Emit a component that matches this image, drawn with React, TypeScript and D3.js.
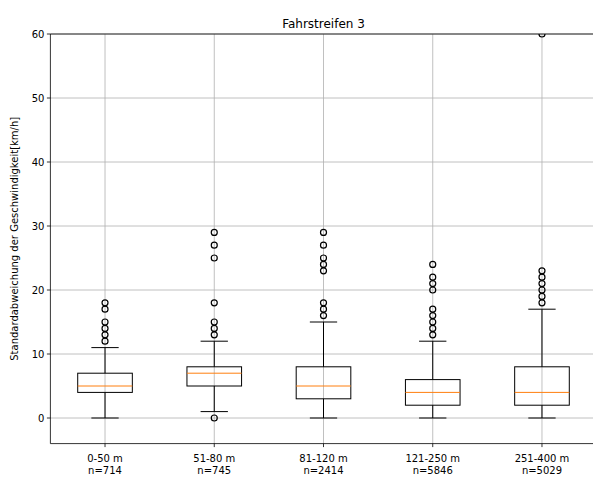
import React from "react";
import * as d3 from "d3";

const categories = ["0-50 m", "51-80 m", "81-120 m", "121-250 m", "251-400 m"];
const counts = ["n=714", "n=745", "n=2414", "n=5846", "n=5029"];
const q1 = [4, 5, 3, 2, 2];
const medians = [5, 7, 5, 4, 4];
const q3 = [7, 8, 8, 6, 8];
const whiskerLow = [0, 1, 0, 0, 0];
const whiskerHigh = [11, 12, 15, 12, 17];
const outliers: number[][] = [
  [12, 13, 14, 15, 17, 18],
  [0, 13, 14, 15, 18, 25, 27, 29],
  [16, 17, 18, 23, 24, 25, 27, 29],
  [13, 14, 15, 16, 17, 20, 21, 22, 24],
  [18, 19, 20, 21, 22, 23, 60],
];
const yTicks = [0, 10, 20, 30, 40, 50, 60];

const W = 593;
const H = 477;
const left = 50.4;
const right = 596.6;
const top = 34;
const bottom = 443.6;

export default function App() {
  const x = d3.scaleLinear().domain([0.5, 5.5]).range([left, right]);
  const y = d3.scaleLinear().domain([-4, 60]).range([bottom, top]);
  const font = "DejaVu Sans, sans-serif";
  const bw = x(1.25) - x(1);
  const cw = x(1.125) - x(1);
  return (
    <svg width={W} height={H} style={{ position: "absolute", left: 0, top: 0, background: "#fff" }} fontFamily={font}>
      <defs>
        <clipPath id="axclip">
          <rect x={left} y={top} width={right - left} height={bottom - top} />
        </clipPath>
      </defs>
      {/* grid */}
      {yTicks.map((t) => (
        <line key={"gy" + t} x1={left} x2={right} y1={y(t)} y2={y(t)} stroke="#b0b0b0" strokeWidth={0.8} />
      ))}
      {categories.map((c, i) => (
        <line key={"gx" + c} x1={x(i + 1)} x2={x(i + 1)} y1={top} y2={bottom} stroke="#b0b0b0" strokeWidth={0.8} />
      ))}
      <g clipPath="url(#axclip)">
        {categories.map((c, i) => {
          const cx = x(i + 1);
          return (
            <g key={"b" + c}>
              <line x1={cx} x2={cx} y1={y(q1[i])} y2={y(whiskerLow[i])} stroke="#000" strokeWidth={1} />
              <line x1={cx} x2={cx} y1={y(q3[i])} y2={y(whiskerHigh[i])} stroke="#000" strokeWidth={1} />
              <line x1={cx - cw} x2={cx + cw} y1={y(whiskerLow[i])} y2={y(whiskerLow[i])} stroke="#000" strokeWidth={1} />
              <line x1={cx - cw} x2={cx + cw} y1={y(whiskerHigh[i])} y2={y(whiskerHigh[i])} stroke="#000" strokeWidth={1} />
              <rect x={cx - bw} y={y(q3[i])} width={2 * bw} height={y(q1[i]) - y(q3[i])} fill="none" stroke="#000" strokeWidth={1} />
              <line x1={cx - bw} x2={cx + bw} y1={y(medians[i])} y2={y(medians[i])} stroke="#ff7f0e" strokeWidth={1} />
              {outliers[i].map((v, j) => (
                <circle key={j} cx={cx} cy={y(v)} r={3} fill="none" stroke="#000" strokeWidth={1.2} />
              ))}
            </g>
          );
        })}
      </g>
      {/* spines */}
      <line x1={left} x2={left} y1={top} y2={bottom} stroke="#000" strokeWidth={0.8} />
      <line x1={left} x2={right} y1={bottom} y2={bottom} stroke="#000" strokeWidth={0.8} />
      <line x1={left} x2={right} y1={top} y2={top} stroke="#000" strokeWidth={0.8} />
      {/* y ticks */}
      {yTicks.map((t) => (
        <g key={"yt" + t}>
          <line x1={left - 3.5} x2={left} y1={y(t)} y2={y(t)} stroke="#000" strokeWidth={0.8} />
          <text x={left - 6} y={y(t)} dy="0.35em" textAnchor="end" fontSize={10} fill="#000">
            {t}
          </text>
        </g>
      ))}
      {/* x ticks */}
      {categories.map((c, i) => (
        <g key={"xt" + c}>
          <line x1={x(i + 1)} x2={x(i + 1)} y1={bottom} y2={bottom + 3.5} stroke="#000" strokeWidth={0.8} />
          <text x={x(i + 1)} y={bottom + 18} textAnchor="middle" fontSize={10} fill="#000">
            {c}
          </text>
          <text x={x(i + 1)} y={bottom + 30} textAnchor="middle" fontSize={10} fill="#000">
            {counts[i]}
          </text>
        </g>
      ))}
      <text x={(left + right) / 2} y={top - 6} textAnchor="middle" fontSize={12} fill="#000">
        Fahrstreifen 3
      </text>
      <text
        transform={`translate(18,${(top + bottom) / 2}) rotate(-90)`}
        textAnchor="middle"
        fontSize={10}
        fill="#000"
      >
        Standardabweichung der Geschwindigkeit[km/h]
      </text>
    </svg>
  );
}
